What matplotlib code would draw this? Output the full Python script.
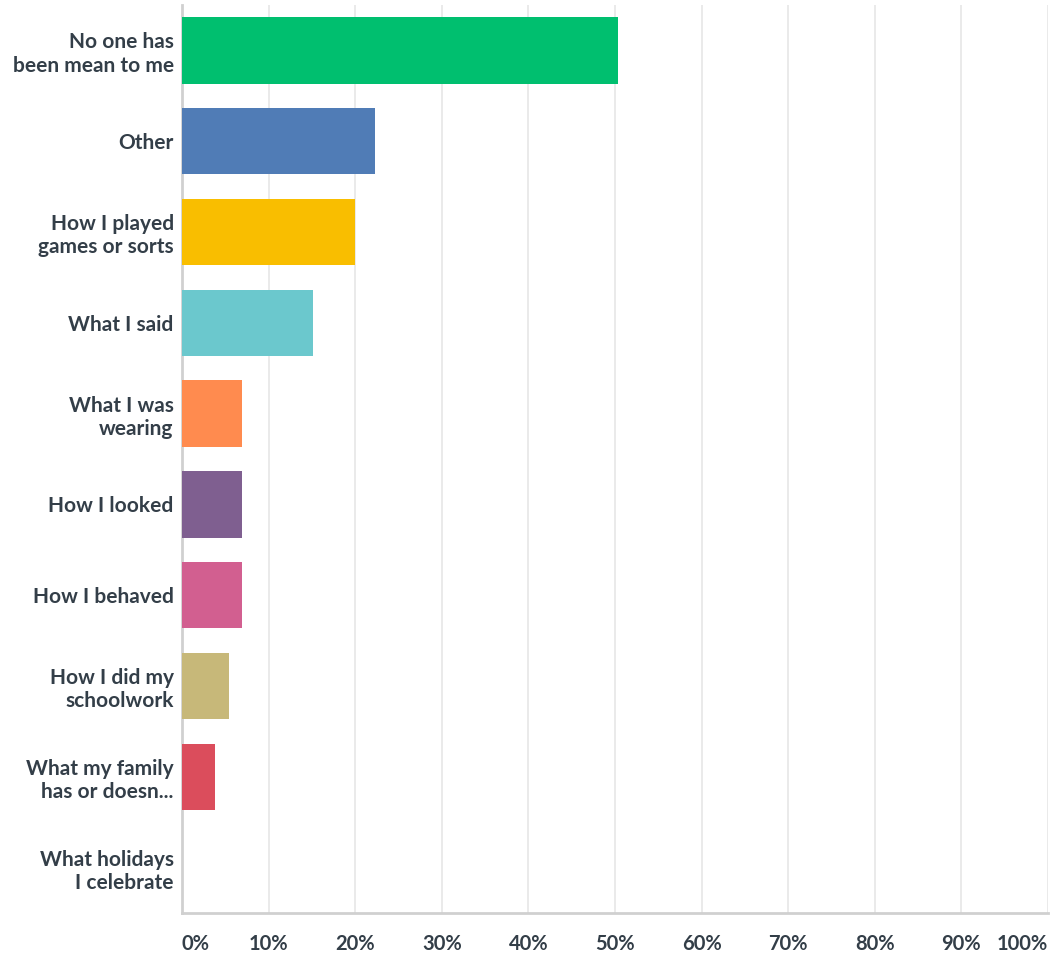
import matplotlib
matplotlib.use("Agg")
import matplotlib.pyplot as plt

categories = [
    "No one has\nbeen mean to me",
    "Other",
    "How I played\ngames or sorts",
    "What I said",
    "What I was\nwearing",
    "How I looked",
    "How I behaved",
    "How I did my\nschoolwork",
    "What my family\nhas or doesn...",
    "What holidays\nI celebrate",
]
values = [50.4, 22.3, 20.0, 15.1, 6.9, 6.9, 6.9, 5.4, 3.8, 0.0]
colors = ["#00BF6F", "#507CB6", "#F9BE00", "#6BC8CD", "#FF8B4F",
          "#7F5F90", "#D25F90", "#C7B879", "#DB4D5C", "#999999"]
xticks = list(range(0, 101, 10))
xticklabels = [f"{t}%" for t in xticks]

plt.rcParams['font.family'] = ['Lato', 'DejaVu Sans']
text_color = "#333E48"

fig = plt.figure(figsize=(10.5, 9.56), dpi=100)
ax = fig.add_axes([182/1050, 1 - 913/956, (1048-182)/1050, (913-5)/956])

y = list(range(len(categories)))
ax.barh(y, values, height=0.73, color=colors, zorder=3)
ax.set_ylim(len(categories) - 0.5, -0.5)
ax.set_xlim(0, 100)

ax.set_xticks(xticks)
labels = ax.set_xticklabels(xticklabels, fontsize=14.5, fontweight='bold', color=text_color)
labels[0].set_horizontalalignment('left')
labels[-1].set_horizontalalignment('right')
ax.set_yticks(y)
ax.set_yticklabels(categories, fontsize=15, fontweight='bold', color=text_color, linespacing=1.2)

ax.tick_params(axis='x', length=0, pad=15)
ax.tick_params(axis='y', length=0, pad=6)
ax.grid(axis='x', color="#E6E6E6", linewidth=1.2, zorder=0)
for s in ['top', 'right']:
    ax.spines[s].set_visible(False)
for s in ['left', 'bottom']:
    ax.spines[s].set_color("#D0D0D0")
    ax.spines[s].set_linewidth(2)

fig.savefig("out.png", dpi=100)
